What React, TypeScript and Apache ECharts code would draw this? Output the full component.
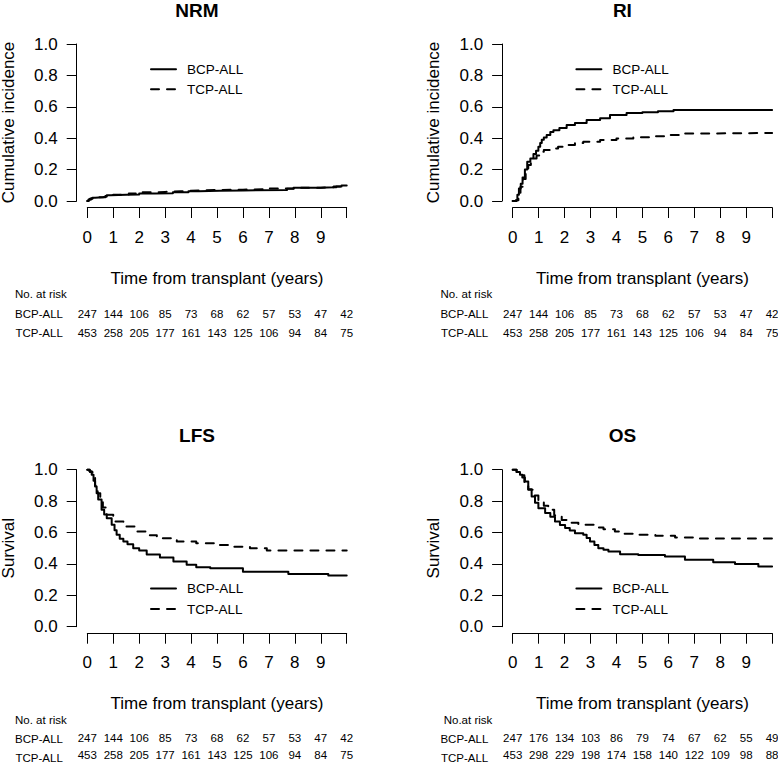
import React, { useEffect, useRef } from "react";
import * as echarts from "echarts";

const YEARS = [0, 1, 2, 3, 4, 5, 6, 7, 8, 9, 10];
const GROUPS = ["BCP-ALL", "TCP-ALL"];
const TITLES = ["NRM", "RI", "LFS", "OS"];
const Y_TITLES = ["Cumulative incidence", "Cumulative incidence", "Survival", "Survival"];
const RISK_TITLES = ["No. at risk", "No. at risk", "No. at risk", "No.at risk"];
const X_TITLE = "Time from transplant (years)";

const NRM_BCP = [[0,0],[0.05,0.008],[0.1,0.015],[0.2,0.02],[0.3,0.024],[0.6,0.028],[0.75,0.036],[0.9,0.04],[1.5,0.042],[2.0,0.047],[2.6,0.05],[3.3,0.055],[3.9,0.062],[4.3,0.065],[5.1,0.067],[6.0,0.07],[7.7,0.078],[7.95,0.085],[9.0,0.088],[9.5,0.093],[9.8,0.098],[10,0.098]];
const NRM_TCP = [[0,0],[0.05,0.01],[0.15,0.018],[0.3,0.024],[0.7,0.032],[1.0,0.04],[1.6,0.048],[2.0,0.055],[2.5,0.058],[3.0,0.062],[3.6,0.066],[4.0,0.07],[5.0,0.072],[6.0,0.075],[6.8,0.08],[8.0,0.085],[9.0,0.088],[9.6,0.093],[10,0.095]];
const RI_BCP = [[0,0],[0.12,0.005],[0.18,0.04],[0.24,0.08],[0.31,0.11],[0.38,0.15],[0.47,0.2],[0.56,0.25],[0.68,0.27],[0.8,0.3],[0.9,0.32],[0.99,0.345],[1.06,0.37],[1.12,0.39],[1.2,0.405],[1.31,0.42],[1.45,0.44],[1.57,0.45],[1.8,0.465],[2.08,0.484],[2.4,0.497],[2.85,0.516],[3.37,0.527],[3.75,0.548],[4.39,0.56],[5.0,0.565],[5.6,0.572],[6.2,0.58],[10,0.58]];
const RI_TCP = [[0,0],[0.15,0.005],[0.22,0.04],[0.3,0.09],[0.4,0.14],[0.5,0.19],[0.6,0.23],[0.7,0.255],[0.8,0.27],[0.92,0.29],[1.05,0.314],[1.2,0.325],[1.44,0.335],[1.75,0.345],[2.08,0.357],[2.4,0.37],[2.72,0.378],[3.37,0.389],[4.0,0.398],[4.65,0.406],[5.3,0.412],[6.0,0.42],[6.6,0.43],[7.2,0.433],[10,0.433]];
const LFS_BCP = [[0,1],[0.08,0.99],[0.17,0.968],[0.24,0.93],[0.3,0.893],[0.36,0.85],[0.42,0.81],[0.55,0.745],[0.65,0.715],[0.75,0.69],[0.94,0.65],[1.05,0.615],[1.13,0.585],[1.25,0.56],[1.39,0.543],[1.55,0.525],[1.77,0.5],[2.0,0.485],[2.29,0.46],[2.8,0.44],[3.32,0.415],[3.83,0.394],[4.2,0.379],[4.74,0.372],[6.0,0.35],[7.75,0.336],[9.29,0.326],[10,0.326]];
const LFS_TCP = [[0,1],[0.1,0.985],[0.2,0.95],[0.3,0.9],[0.4,0.85],[0.5,0.8],[0.6,0.76],[0.75,0.713],[1.0,0.67],[1.39,0.638],[1.9,0.606],[2.3,0.583],[2.68,0.564],[3.45,0.543],[4.2,0.532],[4.99,0.52],[5.6,0.51],[6.27,0.5],[6.92,0.485],[10,0.483]];
const OS_BCP = [[0,1],[0.15,0.985],[0.28,0.968],[0.37,0.95],[0.47,0.925],[0.6,0.875],[0.73,0.83],[0.86,0.79],[0.99,0.755],[1.25,0.724],[1.45,0.7],[1.63,0.67],[1.82,0.648],[2.02,0.628],[2.2,0.612],[2.4,0.596],[2.72,0.585],[2.85,0.565],[2.98,0.543],[3.15,0.52],[3.3,0.5],[3.5,0.49],[3.69,0.479],[4.14,0.462],[4.84,0.457],[5.87,0.447],[6.64,0.426],[7.73,0.411],[8.57,0.4],[9.47,0.383],[10,0.383]];
const OS_TCP = [[0,1],[0.15,0.985],[0.3,0.965],[0.45,0.92],[0.6,0.872],[0.8,0.835],[0.99,0.8],[1.2,0.77],[1.37,0.745],[1.6,0.71],[1.89,0.68],[2.2,0.662],[2.53,0.649],[3.17,0.632],[3.5,0.62],[3.94,0.606],[4.3,0.592],[4.84,0.585],[5.5,0.58],[6.26,0.568],[7.0,0.562],[10,0.56]];

const RISK_BCP = [247, 144, 106, 85, 73, 68, 62, 57, 53, 47, 42];
const RISK_TCP = [453, 258, 205, 177, 161, 143, 125, 106, 94, 84, 75];
const RISK_BCP_OS = [247, 176, 134, 103, 86, 79, 74, 67, 62, 55, 49];
const RISK_TCP_OS = [453, 298, 229, 198, 174, 158, 140, 122, 109, 98, 88];

const CURVES = [
  [NRM_BCP, NRM_TCP],
  [RI_BCP, RI_TCP],
  [LFS_BCP, LFS_TCP],
  [OS_BCP, OS_TCP],
];
const RISKS = [
  [RISK_BCP, RISK_TCP],
  [RISK_BCP, RISK_TCP],
  [RISK_BCP, RISK_TCP],
  [RISK_BCP_OS, RISK_TCP_OS],
];
const LEGEND_Y = [[69.3, 89.3], [69.3, 89.3], [588.4 - 425.7, 609 - 425.7], [588.4 - 425.7, 609 - 425.7]];

const FONT = "'Liberation Sans', Arial, Helvetica, sans-serif";
const DX = [0, 425.4, 0, 425.4];
const DY = [0, 0, 425.7, 425.7];

function buildOption() {
  const grid: any[] = [];
  const xAxis: any[] = [];
  const yAxis: any[] = [];
  const series: any[] = [];
  const graphic: any[] = [];
  const axisLineStyle = { color: "#000", width: 1 };
  for (let i = 0; i < 4; i++) {
    const dx = DX[i];
    const dy = DY[i];
    const m = 2 * i;
    const r = 2 * i + 1;
    grid.push({ left: 87.3 + dx, top: 44 + dy, width: 259.4, height: 157 });
    xAxis.push({
      gridIndex: m, type: "value", min: 0, max: 10, interval: 1, offset: 6.5,
      axisLine: { show: true, onZero: false, lineStyle: axisLineStyle },
      axisTick: { show: true, length: 10.5, lineStyle: axisLineStyle },
      axisLabel: { show: true, margin: 21, fontSize: 17, fontFamily: FONT, color: "#000",
        showMinLabel: true, showMaxLabel: true,
        formatter: (v: number) => (v === 10 ? "" : String(v)) },
      splitLine: { show: false },
    });
    yAxis.push({
      gridIndex: m, type: "value", min: 0, max: 1, interval: 0.2, offset: 10.6,
      axisLine: { show: true, onZero: false, lineStyle: axisLineStyle },
      axisTick: { show: true, length: 10, lineStyle: axisLineStyle },
      axisLabel: { show: true, margin: 19, fontSize: 17, fontFamily: FONT, color: "#000",
        showMinLabel: true, showMaxLabel: true,
        formatter: (v: number) => v.toFixed(1) },
      splitLine: { show: false },
    });
    // risk table grid
    grid.push({ left: 87.3 + dx, top: 304 + dy, width: 259.4, height: 38 });
    xAxis.push({ gridIndex: r, type: "value", min: 0, max: 10, show: false });
    yAxis.push({ gridIndex: r, type: "category", data: GROUPS, inverse: true, show: false });

    CURVES[i].forEach((d, k) => {
      series.push({
        type: "line", name: GROUPS[k], xAxisIndex: m, yAxisIndex: m, data: d,
        step: "end", symbol: "none", showSymbol: false, clip: false, silent: true,
        lineStyle: { color: "#000", width: 2, cap: "round", join: "round", type: k === 0 ? "solid" : [8, 8] },
      });
    });
    RISKS[i].forEach((arr, k) => {
      series.push({
        type: "scatter", xAxisIndex: r, yAxisIndex: r, silent: true,
        symbol: "circle", symbolSize: 1, itemStyle: { color: "rgba(0,0,0,0)" },
        data: YEARS.map((t, j) => [t, GROUPS[k], arr[j]]),
        label: { show: true, position: "inside", fontSize: 11.5, fontFamily: FONT, color: "#000",
          textBorderWidth: 0, textBorderColor: "transparent", opacity: 1,
          formatter: (p: any) => String(p.value[2]) },
      });
    });
    // texts
    const txt = (x: number, y: number, text: string, size: number, extra: any = {}, opts: any = {}) => ({
      type: "text", x, y, silent: true, ...opts,
      style: { text, fontSize: size, fontFamily: FONT, fill: "#000", align: "center", verticalAlign: "middle", ...extra },
    });
    graphic.push(txt(197 + dx, 10 + dy, TITLES[i], 19, { fontWeight: "bold" }));
    graphic.push(txt(8 + dx, 122.5 + dy, Y_TITLES[i], 17, {}, { rotation: Math.PI / 2 }));
    graphic.push(txt(217 + dx, 278 + dy, X_TITLE, 17));
    graphic.push(txt((i === 3 ? 18.3 : 15) + dx, 294.3 + dy, RISK_TITLES[i], 11.5, { align: "left" }));
    graphic.push(txt(15 + dx, 313.5 + dy, GROUPS[0], 11.5, { align: "left" }));
    graphic.push(txt(15.5 + dx, 332.5 + dy, GROUPS[1], 11.5, { align: "left" }));
    LEGEND_Y[i].forEach((ly, k) => {
      graphic.push({
        type: "line", silent: true,
        shape: { x1: 151 + dx, y1: ly + dy, x2: 176 + dx, y2: ly + dy },
        style: { stroke: "#000", lineWidth: 2, lineCap: "round", lineDash: k === 0 ? null : [8, 8] },
      });
      graphic.push(txt(187 + dx, ly + dy, GROUPS[k], 13.5, { align: "left" }));
    });
  }
  return { animation: false, backgroundColor: "#fff", grid, xAxis, yAxis, series, graphic };
}

export default function App() {
  const ref = useRef<HTMLDivElement>(null);
  useEffect(() => {
    document.body.style.margin = "0";
    if (!ref.current) return;
    const chart = echarts.init(ref.current, null, { renderer: "svg" });
    chart.setOption(buildOption());
    return () => chart.dispose();
  }, []);
  return <div ref={ref} style={{ width: 778, height: 764 }} />;
}
